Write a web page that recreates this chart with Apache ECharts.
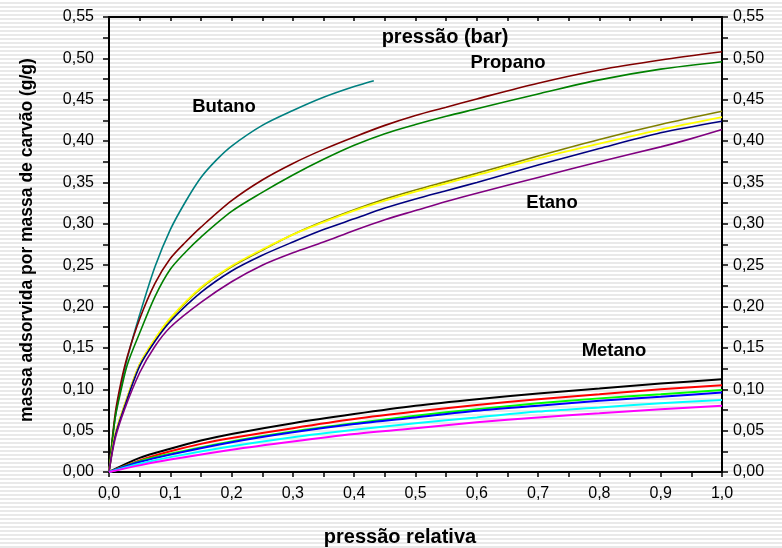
<!DOCTYPE html>
<html>
<head>
<meta charset="utf-8">
<script src="https://cdn.jsdelivr.net/npm/echarts@6/dist/echarts.min.js"></script>
<style>
  html, body { margin: 0; padding: 0; }
  body {
    width: 782px; height: 548px;
    background: repeating-linear-gradient(to bottom, #ffffff 0px, #ffffff 2px, #e9e9e9 2px, #e9e9e9 4px);
  }
  #chart { width: 782px; height: 548px; }
</style>
</head>
<body>
<div id="chart"></div>
<script>
// Adsorption isotherms: adsorbed mass per mass of carbon vs. relative pressure
const butano   = [[0,0],[0.01,0.065],[0.02,0.105],[0.03,0.138],[0.05,0.19],[0.075,0.248],[0.1,0.293],[0.125,0.327],[0.15,0.356],[0.175,0.377],[0.2,0.394],[0.25,0.419],[0.3,0.437],[0.35,0.453],[0.4,0.466],[0.432,0.473]];
const propano1 = [[0,0],[0.01,0.07],[0.02,0.11],[0.03,0.14],[0.05,0.185],[0.075,0.228],[0.1,0.258],[0.125,0.278],[0.15,0.296],[0.2,0.328],[0.25,0.353],[0.3,0.373],[0.35,0.39],[0.4,0.405],[0.45,0.419],[0.5,0.431],[0.55,0.441],[0.6,0.451],[0.7,0.47],[0.8,0.486],[0.9,0.498],[1.0,0.508]];
const propano2 = [[0,0],[0.01,0.065],[0.02,0.1],[0.03,0.13],[0.05,0.168],[0.075,0.212],[0.1,0.245],[0.125,0.266],[0.15,0.284],[0.2,0.315],[0.25,0.338],[0.3,0.359],[0.35,0.378],[0.4,0.395],[0.45,0.409],[0.5,0.42],[0.55,0.43],[0.6,0.439],[0.7,0.457],[0.8,0.474],[0.9,0.487],[1.0,0.496]];
const etano1   = [[0,0],[0.01,0.045],[0.025,0.08],[0.05,0.13],[0.075,0.16],[0.1,0.185],[0.15,0.222],[0.2,0.248],[0.25,0.268],[0.3,0.287],[0.35,0.303],[0.4,0.317],[0.45,0.33],[0.5,0.341],[0.55,0.351],[0.6,0.361],[0.7,0.382],[0.8,0.402],[0.9,0.42],[1.0,0.436]];
const etano2   = [[0,0],[0.01,0.045],[0.025,0.08],[0.05,0.13],[0.075,0.161],[0.1,0.186],[0.15,0.223],[0.2,0.249],[0.25,0.269],[0.3,0.287],[0.35,0.302],[0.4,0.316],[0.45,0.328],[0.5,0.339],[0.55,0.349],[0.6,0.359],[0.7,0.379],[0.8,0.397],[0.9,0.414],[1.0,0.429]];
const etano3   = [[0,0],[0.01,0.043],[0.025,0.078],[0.05,0.128],[0.075,0.158],[0.1,0.182],[0.15,0.217],[0.2,0.243],[0.25,0.262],[0.3,0.278],[0.35,0.293],[0.4,0.306],[0.45,0.319],[0.5,0.33],[0.55,0.34],[0.6,0.35],[0.7,0.371],[0.8,0.391],[0.9,0.41],[1.0,0.424]];
const etano4   = [[0,0],[0.01,0.04],[0.025,0.075],[0.05,0.12],[0.075,0.152],[0.1,0.175],[0.15,0.205],[0.2,0.23],[0.25,0.25],[0.3,0.265],[0.35,0.278],[0.4,0.292],[0.45,0.305],[0.5,0.316],[0.55,0.327],[0.6,0.337],[0.7,0.356],[0.8,0.375],[0.9,0.393],[0.95,0.403],[1.0,0.414]];
const metano1  = [[0,0],[0.05,0.017],[0.1,0.028],[0.15,0.038],[0.2,0.046],[0.3,0.059],[0.4,0.07],[0.5,0.08],[0.6,0.088],[0.7,0.095],[0.8,0.101],[0.9,0.107],[1.0,0.112]];
const metano2  = [[0,0],[0.05,0.014],[0.1,0.025],[0.15,0.034],[0.2,0.041],[0.3,0.053],[0.4,0.064],[0.5,0.073],[0.6,0.081],[0.7,0.088],[0.8,0.094],[0.9,0.1],[1.0,0.105]];
const metano3  = [[0,0],[0.05,0.013],[0.1,0.022],[0.2,0.037],[0.3,0.049],[0.4,0.059],[0.5,0.068],[0.6,0.076],[0.7,0.083],[0.8,0.089],[0.9,0.094],[1.0,0.099]];
const metano4  = [[0,0],[0.05,0.012],[0.1,0.021],[0.2,0.036],[0.3,0.048],[0.4,0.058],[0.5,0.066],[0.6,0.074],[0.7,0.08],[0.8,0.086],[0.9,0.091],[1.0,0.096]];
const metano5  = [[0,0],[0.05,0.01],[0.1,0.018],[0.2,0.031],[0.3,0.042],[0.4,0.051],[0.5,0.059],[0.6,0.066],[0.7,0.073],[0.8,0.078],[0.9,0.083],[1.0,0.087]];
const metano6  = [[0,0],[0.05,0.008],[0.1,0.015],[0.2,0.027],[0.3,0.037],[0.4,0.046],[0.5,0.053],[0.6,0.06],[0.7,0.066],[0.8,0.071],[0.9,0.076],[1.0,0.08]];

const seriesList = [
  { name: 'Butano',   data: butano,   color: '#008080', width: 1.6 },
  { name: 'Propano1', data: propano1, color: '#800000', width: 1.6 },
  { name: 'Propano2', data: propano2, color: '#008000', width: 1.6 },
  { name: 'Etano1',   data: etano1,   color: '#808000', width: 1.6 },
  { name: 'Etano2',   data: etano2,   color: '#ffff00', width: 1.8 },
  { name: 'Etano3',   data: etano3,   color: '#000080', width: 1.6 },
  { name: 'Etano4',   data: etano4,   color: '#800080', width: 1.6 },
  { name: 'Metano1',  data: metano1,  color: '#000000', width: 2 },
  { name: 'Metano2',  data: metano2,  color: '#ff0000', width: 2 },
  { name: 'Metano3',  data: metano3,  color: '#00ff00', width: 2 },
  { name: 'Metano4',  data: metano4,  color: '#0000ff', width: 2 },
  { name: 'Metano5',  data: metano5,  color: '#00ffff', width: 2 },
  { name: 'Metano6',  data: metano6,  color: '#ff00ff', width: 2 }
];

const FONT = '"Liberation Sans", Arial, sans-serif';
const comma = (d) => (v) => v.toFixed(d).replace('.', ',');

const chart = echarts.init(document.getElementById('chart'), null, { renderer: 'canvas' });

const axisLine = { show: true, onZero: false, lineStyle: { color: '#000', width: 2 } };
const tickStyle = { color: '#000', width: 1.5 };
const labelStyle = { color: '#000', fontSize: 16, fontFamily: FONT };

function label(text, x, y, size, rotation) {
  return {
    type: 'text', x: x, y: y, rotation: rotation || 0, z: 100,
    style: { text: text, fontSize: size, fontWeight: 'bold', fontFamily: FONT, fill: '#000', align: 'center', verticalAlign: 'middle' }
  };
}

chart.setOption({
  backgroundColor: 'transparent',
  animation: false,
  grid: { left: 109, right: 60, top: 17, bottom: 76, containLabel: false },
  xAxis: [
    {
      type: 'value', position: 'bottom', min: 0, max: 1, interval: 0.1,
      axisLine: axisLine,
      axisTick: { show: true, length: 5, lineStyle: tickStyle },
      minorTick: { show: true, splitNumber: 2, length: 5, lineStyle: tickStyle },
      axisLabel: Object.assign({ formatter: comma(1), margin: 14 }, labelStyle),
      splitLine: { show: false }
    },
    {
      type: 'value', position: 'top', min: 0, max: 1, interval: 0.1,
      axisLine: axisLine,
      axisTick: { show: true, inside: true, length: 4, lineStyle: tickStyle },
      minorTick: { show: true, splitNumber: 2, length: 4, lineStyle: tickStyle },
      axisLabel: { show: false },
      splitLine: { show: false }
    }
  ],
  yAxis: [
    {
      type: 'value', position: 'left', min: 0, max: 0.55, interval: 0.05,
      axisLine: axisLine,
      axisTick: { show: true, length: 6, lineStyle: tickStyle },
      minorTick: { show: true, splitNumber: 2, length: 6, lineStyle: tickStyle },
      axisLabel: Object.assign({ formatter: comma(2), margin: 15 }, labelStyle),
      splitLine: { show: false }
    },
    {
      type: 'value', position: 'right', min: 0, max: 0.55, interval: 0.05,
      axisLine: axisLine,
      axisTick: { show: true, length: 6, lineStyle: tickStyle },
      minorTick: { show: true, splitNumber: 2, length: 6, lineStyle: tickStyle },
      axisLabel: Object.assign({ formatter: comma(2), margin: 11 }, labelStyle),
      splitLine: { show: false }
    }
  ],
  series: seriesList.map(s => ({
    name: s.name, type: 'line', xAxisIndex: 0, yAxisIndex: 0,
    data: s.data, showSymbol: false, symbol: 'none', smooth: 0.3,
    lineStyle: { color: s.color, width: s.width }, silent: true
  })),
  graphic: [
    label('Butano', 224, 107, 18.5),
    label('pressão (bar)', 445, 37, 20),
    label('Propano', 508, 63, 18.5),
    label('Etano', 552, 203, 18.5),
    label('Metano', 614, 351, 18.5),
    label('pressão relativa', 400, 537, 20),
    label('massa adsorvida por massa de carvão (g/g)', 27, 240, 17.5, Math.PI / 2)
  ]
});
</script>
</body>
</html>
